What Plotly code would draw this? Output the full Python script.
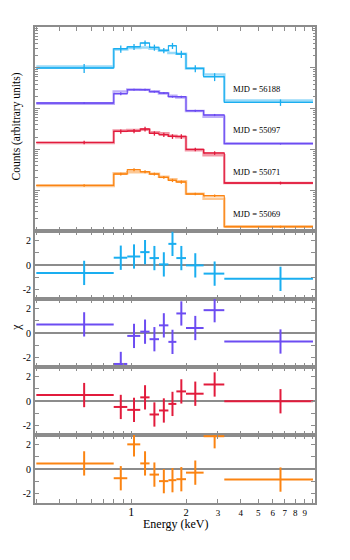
import math

import plotly.graph_objects as go
from plotly.subplots import make_subplots

# energy bin edges (keV)
edges = [0.3, 0.8, 0.95, 1.12, 1.26, 1.42, 1.6, 1.77, 2.0, 2.5, 3.25, 10.0]

labels = ['MJD = 56188', 'MJD = 55097', 'MJD = 55071', 'MJD = 55069']
colors = ['#1aaef0', '#6c4cf2', '#e21b3c', '#fb8412']
light = ['rgba(26,174,240,0.45)', 'rgba(108,76,242,0.45)',
         'rgba(226,27,60,0.45)', 'rgba(251,132,18,0.45)']

# counts (arbitrary units, spectra offset for clarity)
data_56188 = [9890, 29400, 32900, 40500, 31600, 26700, 34800, 21800, 9660, 6050, 1420]
model_56188 = [10800, 28100, 30600, 31600, 29400, 26300, 23100, 22200, 9660, 6890, 1590]
relerr_56188 = [0.25, 0.2, 0.17, 0.16, 0.17, 0.15, 0.17, 0.2, 0.2, 0.22, 0.18]
chi_56188 = [-0.65, 0.6, 0.7, 1.06, 0.57, 0.05, 1.74, 0.57, -0.03, -0.71, -1.14]

data_55097 = [1371, 2318, 2904, 2904, 2595, 2411, 1959, 1959, 889, 697, 138]
model_55097 = [1318, 2642, 2958, 2904, 2668, 2344, 2071, 1871, 873, 633, 142]
relerr_55097 = [0.05, 0.08, 0.05, 0.05, 0.05, 0.05, 0.05, 0.06, 0.06, 0.06, 0.04]
chi_55097 = [0.71, -2.55, -0.24, 0.11, -0.51, 0.63, -0.73, 1.61, 0.41, 1.88, -0.7]

data_55071 = [148, 276, 282, 316, 247, 229, 208, 208, 100, 81.6, 15.0]
model_55071 = [144, 289, 299, 304, 265, 248, 217, 199, 95.6, 72.1, 15.0]
relerr_55071 = [0.1, 0.12, 0.12, 0.13, 0.12, 0.12, 0.13, 0.13, 0.1, 0.1, 0.08]
chi_55071 = [0.49, -0.49, -0.73, 0.3, -1.11, -0.78, -0.24, 0.79, 0.6, 1.36, -0.02]

data_55069 = [13.1, 24.9, 31.8, 28.4, 24.9, 20.6, 17.4, 15.9, 8.07, 7.33, 1.27]
model_55069 = [12.7, 26.1, 27.6, 27.6, 25.4, 21.4, 18.6, 16.6, 8.2, 6.19, 1.30]
relerr_55069 = [0.07, 0.08, 0.09, 0.08, 0.08, 0.08, 0.09, 0.09, 0.07, 0.07, 0.06]
chi_55069 = [0.46, -0.76, 2.03, 0.46, -0.46, -1.0, -0.92, -0.84, -0.3, 2.7, -0.87]

spectra = [
    (data_56188, model_56188, relerr_56188, chi_56188),
    (data_55097, model_55097, relerr_55097, chi_55097),
    (data_55071, model_55071, relerr_55071, chi_55071),
    (data_55069, model_55069, relerr_55069, chi_55069),
]

lo = edges[:-1]
hi = edges[1:]
energy = [(a + b) / 2 for a, b in zip(lo, hi)]
xplus = [b - e for b, e in zip(hi, energy)]
xminus = [e - a for a, e in zip(lo, energy)]

FONT = 'Liberation Serif'
AXIS = '#8c8c8c'

fig = make_subplots(rows=5, cols=1, shared_xaxes=True, vertical_spacing=0,
                    row_heights=[204, 68, 68, 68, 68])

for i, (data, model, relerr, chi) in enumerate(spectra):
    c = colors[i]
    # model (light band)
    fig.add_scatter(x=edges, y=model + [model[-1]], mode='lines', line_shape='hv',
                    line=dict(color=light[i], width=2.5), showlegend=False,
                    hoverinfo='skip', row=1, col=1)
    # data histogram
    fig.add_scatter(x=edges, y=data + [data[-1]], mode='lines', line_shape='hv',
                    line=dict(color=c, width=1.1), showlegend=False,
                    hoverinfo='skip', row=1, col=1)
    # data crosses
    err = [v * r for v, r in zip(data, relerr)]
    fig.add_scatter(x=energy, y=data, mode='markers', marker=dict(size=1, color=c),
                    error_x=dict(type='data', symmetric=False, array=xplus,
                                 arrayminus=xminus, width=0, thickness=1.3, color=c),
                    error_y=dict(type='data', array=err, width=0, thickness=1.3, color=c),
                    showlegend=False, name=labels[i], row=1, col=1)
    # residuals
    fig.add_scatter(x=energy, y=chi, mode='markers', marker=dict(size=1, color=c),
                    error_x=dict(type='data', symmetric=False, array=xplus,
                                 arrayminus=xminus, width=0, thickness=2, color=c),
                    error_y=dict(type='data', array=[1] * len(chi), width=0,
                                 thickness=2, color=c),
                    showlegend=False, name=labels[i], row=i + 2, col=1)

xmajor = [1, 2, 3, 4, 5, 6, 7, 8, 9]
xtext = ['<span style="font-size:12px">1</span>', '<span style="font-size:10.5px">2</span>',
         '3', '4', '5', '6', '7', '8', '9']
xminor = [0.3, 0.4, 0.5, 0.6, 0.7, 0.8, 0.9, 10]

fig.update_xaxes(type='log', range=[math.log10(0.295), math.log10(10.26)],
                 tickmode='array', tickvals=xmajor, ticktext=xtext,
                 ticks='inside', ticklen=4, tickwidth=1, tickcolor=AXIS,
                 minor=dict(tickmode='array', tickvals=xminor, ticks='inside',
                            ticklen=4, tickwidth=1, tickcolor=AXIS),
                 showline=True, linecolor=AXIS, linewidth=2, mirror='allticks',
                 showgrid=False, zeroline=False, showticklabels=False,
                 tickfont=dict(family=FONT, size=9, color='black'))
fig.update_xaxes(showticklabels=True, row=5, col=1)

ymajor = [10, 100, 1000, 10000]
yminor = [k * 10 ** n for n in range(0, 5) for k in range(2, 10)]
fig.update_yaxes(type='log', range=[0, 5], tickmode='array', tickvals=ymajor,
                 showticklabels=False, ticks='inside', ticklen=5, tickcolor=AXIS,
                 minor=dict(tickmode='array', tickvals=yminor, ticks='inside',
                            ticklen=2.5, tickcolor=AXIS),
                 showline=True, linecolor=AXIS, linewidth=2, mirror='allticks',
                 showgrid=False, zeroline=False, row=1, col=1)

for r in range(2, 6):
    fig.update_yaxes(range=[-2.8, 2.8], tickmode='array', tickvals=[-2, 0, 2],
                     ticktext=['-2', '0', '2'], ticks='inside', ticklen=4,
                     tickcolor=AXIS,
                     minor=dict(tickmode='array', tickvals=[-1, 1], ticks='inside',
                                ticklen=4, tickcolor=AXIS),
                     showline=True, linecolor=AXIS, linewidth=2, mirror='allticks',
                     showgrid=False, zeroline=True, zerolinecolor=AXIS,
                     zerolinewidth=1.6,
                     tickfont=dict(family=FONT, size=10, color='black'),
                     row=r, col=1)

# spectrum labels
label_y = [0.8697, 0.7828, 0.696, 0.6078]
for txt, yy in zip(labels, label_y):
    fig.add_annotation(x=0.7, y=yy, xref='paper', yref='paper', text=txt,
                       showarrow=False, xanchor='left', yanchor='middle',
                       font=dict(family=FONT, size=8.5, color='black'))

fig.add_annotation(x=-0.066, y=0.79, xref='paper', yref='paper',
                   text='Counts (arbitrary units)', textangle=-90, showarrow=False,
                   xanchor='center', yanchor='middle',
                   font=dict(family=FONT, size=11.5, color='black'))
fig.add_annotation(x=-0.068, y=0.37, xref='paper', yref='paper', text='χ',
                   textangle=-90, showarrow=False,
                   xanchor='center', yanchor='middle',
                   font=dict(family=FONT, size=12, color='black'))
fig.add_annotation(x=0.5, y=-0.045, xref='paper', yref='paper', text='Energy (keV)',
                   showarrow=False, xanchor='center', yanchor='middle',
                   font=dict(family=FONT, size=12, color='black'))

# the page body adds an 8px offset, margins compensate for it
fig.update_layout(width=350, height=560,
                  margin=dict(l=27, r=43, t=19, b=65),
                  paper_bgcolor='white', plot_bgcolor='white',
                  font=dict(family=FONT, size=10, color='black'),
                  showlegend=False)

fig.write_html("out.html")
